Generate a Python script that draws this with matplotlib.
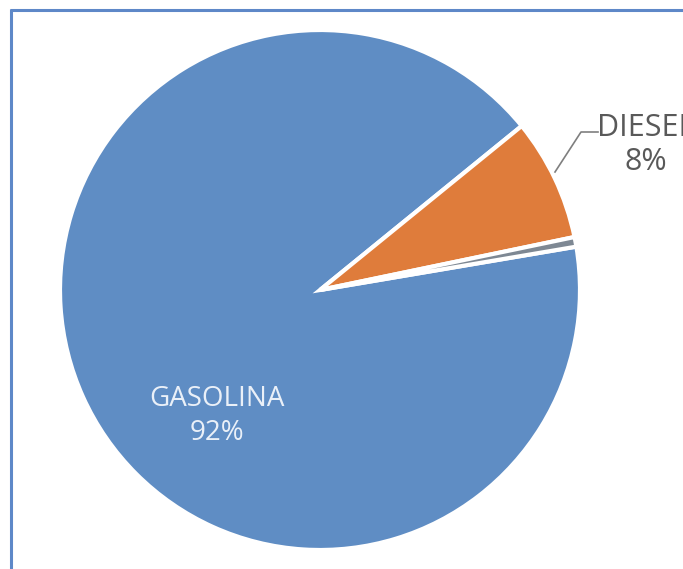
import matplotlib.pyplot as plt

# participación por tipo de combustible
categorias = ['GASOLINA', 'DIESEL', 'OTROS']
valores = [91.8, 7.6, 0.6]
etiquetas = ['GASOLINA\n92%', 'DIESEL\n8%', '']
colores = ['#5F8DC4', '#DF7C3B', '#7E8893']

fig = plt.figure(figsize=(6.83, 5.69), dpi=100)
ax = fig.add_axes([0, 0, 1, 1])

cuñas, _ = ax.pie(valores, colors=colores, startangle=9.6, counterclock=False,
                  center=(320, 279), radius=260,
                  wedgeprops=dict(edgecolor='white', linewidth=3))
ax.set_aspect('auto')
ax.set_xlim(0, 683)
ax.set_ylim(0, 569)
ax.axis('off')

# etiqueta dentro de la porción grande
ax.text(217, 153, etiquetas[0], ha='center', va='center', fontsize=20,
        color='#EAF0F8', family='Open Sans', linespacing=1.3)

# etiqueta externa con línea guía
ax.plot([555, 581, 598], [397, 437, 437], color='#7F7F7F', lw=1.2)
ax.text(597, 424, etiquetas[1], ha='left', va='center', fontsize=22,
        color='#595959', family='Open Sans', linespacing=1.2,
        multialignment='center')

# marco del gráfico
ax.plot([10, 683], [559.5, 559.5], color='#5E88C8', lw=2.2, solid_capstyle='butt')
ax.plot([10.5, 10.5], [0, 560], color='#5E88C8', lw=2.2, solid_capstyle='butt')

# título recortado en el borde superior
ax.text(148, 577, 'por categoría', ha='left', va='baseline', fontsize=20,
        color='black', family='Open Sans')

fig.savefig('out.png', dpi=100)
